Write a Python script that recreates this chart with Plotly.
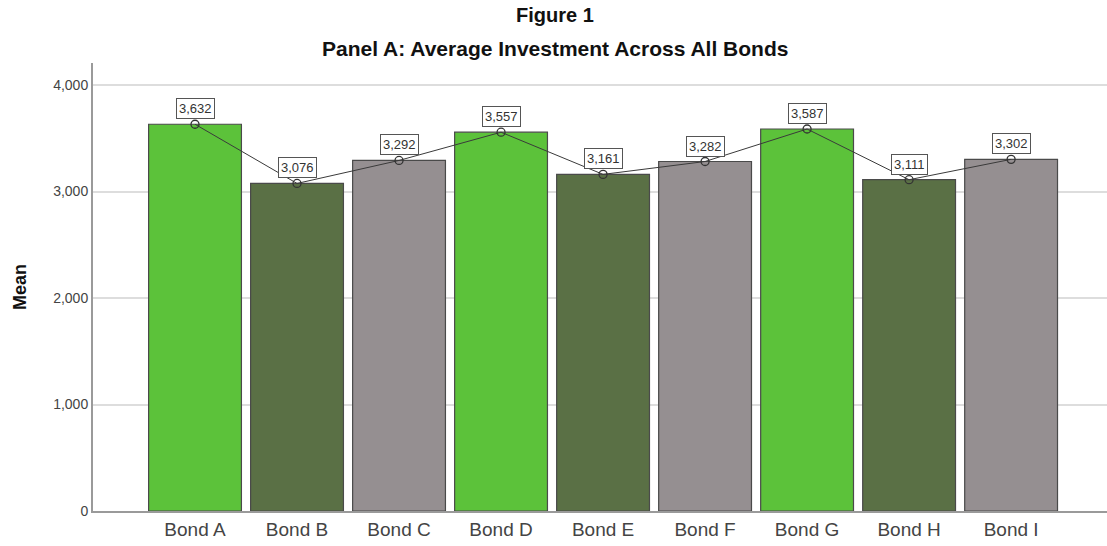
import plotly.graph_objects as go

categories = ["Bond A", "Bond B", "Bond C", "Bond D", "Bond E", "Bond F", "Bond G", "Bond H", "Bond I"]
means = [3632, 3076, 3292, 3557, 3161, 3282, 3587, 3111, 3302]
bar_colors = ["#5cc23a", "#5a7045", "#958f91"] * 3
y_ticks = [0, 1000, 2000, 3000, 4000]
y_tick_labels = ["0", "1,000", "2,000", "3,000", "4,000"]

fig = go.Figure()
fig.add_trace(go.Bar(
    x=categories, y=means,
    marker=dict(color=bar_colors, line=dict(color="#4a4a4a", width=1.2)),
    width=0.91, showlegend=False, hoverinfo="skip",
))
fig.add_trace(go.Scatter(
    x=categories, y=means, mode="lines+markers",
    line=dict(color="#3a3a3a", width=1),
    marker=dict(symbol="circle-open", size=8, color="#333333", line=dict(width=1.3)),
    showlegend=False,
))

for c, v in zip(categories, means):
    fig.add_annotation(
        x=c, y=v, xref="x", yref="y", text=f"{v:,}", showarrow=False,
        yanchor="bottom", yshift=5,
        font=dict(family="Liberation Sans, Arial", size=13, color="#333333"),
        bgcolor="white", bordercolor="#555555", borderwidth=1, borderpad=2,
    )

fig.add_annotation(x=0.4556, y=1 + (63 - 15) / 448, xref="paper", yref="paper", text="<b>Figure 1</b>",
                   showarrow=False, yanchor="middle", xanchor="center",
                   font=dict(family="Liberation Sans, Arial", size=20, color="#111111"))
fig.add_annotation(x=0.4556, y=1 + (63 - 48) / 448, xref="paper", yref="paper",
                   text="<b>Panel A: Average Investment Across All Bonds</b>",
                   showarrow=False, yanchor="middle", xanchor="center",
                   font=dict(family="Liberation Sans, Arial", size=21, color="#111111"))

fig.update_layout(
    width=1107, height=546,
    margin=dict(l=93, r=0, t=63, b=35),
    paper_bgcolor="white", plot_bgcolor="white",
    bargap=0.09,
    xaxis=dict(
        range=[-1.0, 8.94], showgrid=False, showline=True, linecolor="#9a9a9a", linewidth=2,
        ticks="", tickfont=dict(family="Liberation Sans, Arial", size=19, color="#444444"),
        zeroline=False,
    ),
    yaxis=dict(
        range=[0, 4207], tickvals=y_ticks, ticktext=y_tick_labels,
        showgrid=True, gridcolor="#dddddd", gridwidth=2,
        showline=True, linecolor="#9a9a9a", linewidth=2, zeroline=False,
        ticks="", ticklen=0,
        tickfont=dict(family="Liberation Sans, Arial", size=14, color="#444444"),
        title=dict(text="<b>Mean</b>", font=dict(family="Liberation Sans, Arial", size=18, color="#111111"),
                   standoff=22),
    ),
)

fig.write_html("out.html")
